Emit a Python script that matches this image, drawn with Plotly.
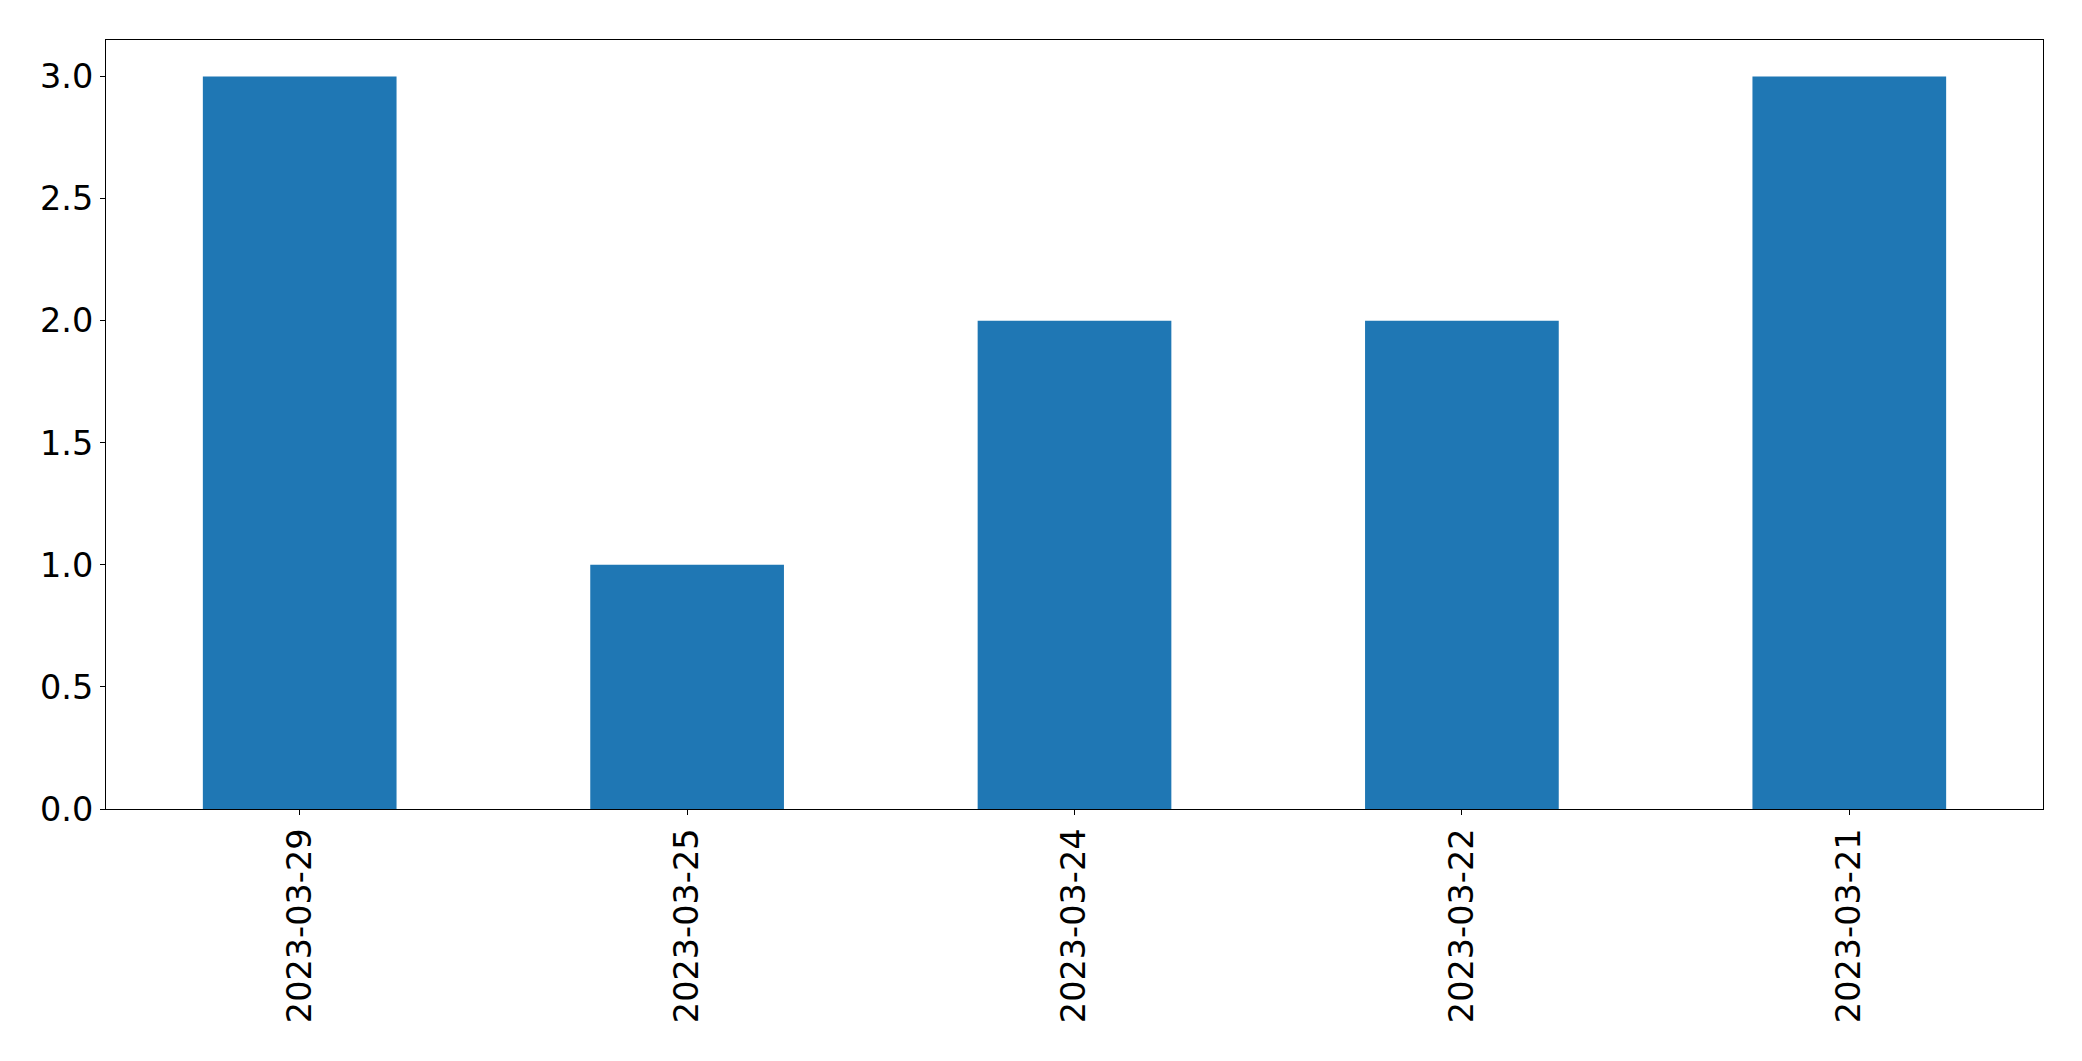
import plotly.graph_objects as go

categories = ["2023-03-29", "2023-03-25", "2023-03-24", "2023-03-22", "2023-03-21"]
values = [3, 1, 2, 2, 3]
y_ticks = [0.0, 0.5, 1.0, 1.5, 2.0, 2.5, 3.0]
y_tick_labels = ["0.0", "0.5", "1.0", "1.5", "2.0", "2.5", "3.0"]

fig = go.Figure(go.Bar(x=categories, y=values, marker=dict(color="#1f77b4", line=dict(width=0)), width=0.5))

font = dict(family="DejaVu Sans", size=33.5, color="black")
fig.update_layout(
    width=2082, height=1061,
    margin=dict(l=105.5, r=39, t=39.5, b=251.7, autoexpand=False),
    paper_bgcolor="white", plot_bgcolor="white",
    font=font, showlegend=False,
)
fig.update_xaxes(
    type="category", range=[-0.5, 4.5], tickangle=-90, automargin=False,
    showline=True, linecolor="black", linewidth=1.1, mirror=True,
    ticks="outside", ticklen=5, tickwidth=1.1, tickcolor="black",
    showgrid=False, zeroline=False, tickfont=font, ticklabelstandoff=0,
)
fig.update_yaxes(
    range=[0, 3.15], tickvals=y_ticks, ticktext=y_tick_labels, automargin=False,
    showline=True, linecolor="black", linewidth=1.1, mirror=True,
    ticks="outside", ticklen=5, tickwidth=1.1, tickcolor="black",
    showgrid=False, zeroline=False, tickfont=font, ticklabelstandoff=0,
)
fig.write_html(
    "out.html",
    config={"displayModeBar": False},
    post_script="document.body.style.margin='0';document.body.style.overflow='hidden';",
)
